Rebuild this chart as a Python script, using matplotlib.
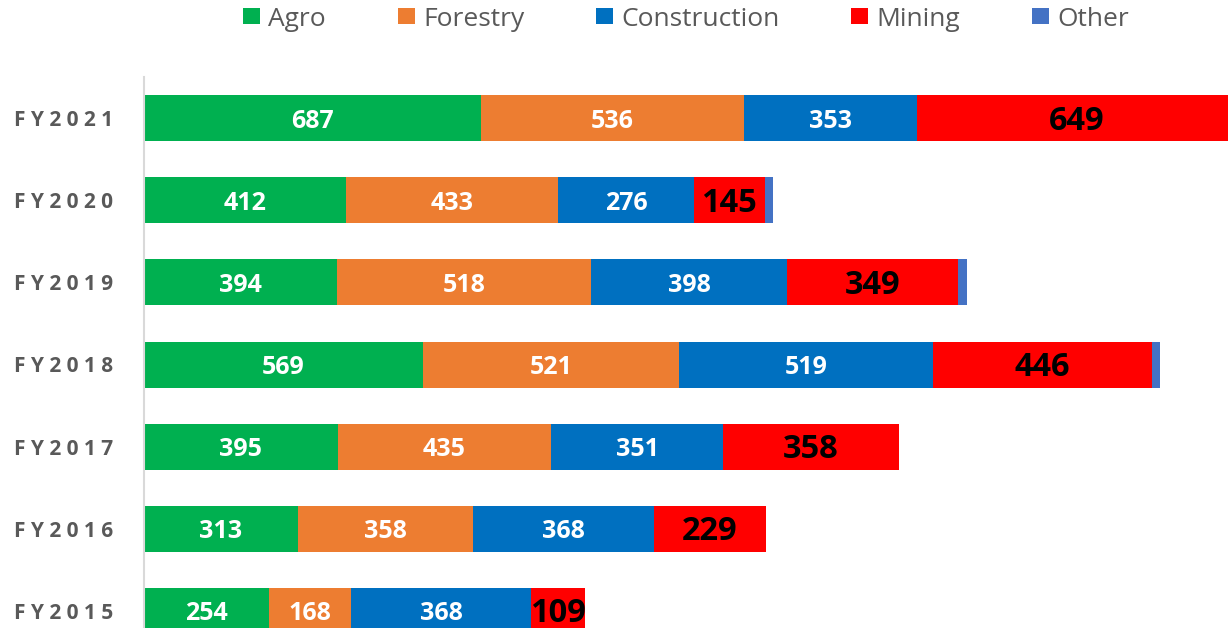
import matplotlib
matplotlib.use("Agg")
import matplotlib.pyplot as plt
from matplotlib.patches import Patch
from matplotlib.transforms import offset_copy

years = ["FY2015", "FY2016", "FY2017", "FY2018", "FY2019", "FY2020", "FY2021"]
agro = [254, 313, 395, 569, 394, 412, 687]
forestry = [168, 358, 435, 521, 518, 433, 536]
construction = [368, 368, 351, 519, 398, 276, 353]
mining = [109, 229, 358, 446, 349, 145, 649]
other = [0, 0, 0, 16, 19, 16, 0]

series_names = ["Agro", "Forestry", "Construction", "Mining", "Other"]
series_vals = [agro, forestry, construction, mining, other]
colors = ["#00B050", "#ED7D31", "#0070C0", "#FF0000", "#4472C4"]

plt.rcParams['font.family'] = ['Open Sans', 'DejaVu Sans']

W, H = 1228, 628
fig = plt.figure(figsize=(W / 100, H / 100), dpi=100)
ax_left, ax_right = 144 / W, 1.0
ax_top, ax_bot = 1 - 77 / H, 1 - 652 / H
ax = fig.add_axes([ax_left, ax_bot, ax_right - ax_left, ax_top - ax_bot])
ax.set_facecolor("none")

lbl_tr = offset_copy(ax.transData, fig=fig, x=0, y=-3, units="dots")

ypos = list(range(len(years)))
left = [0] * len(years)
for name, vals, col in zip(series_names, series_vals, colors):
    ax.barh(ypos, vals, left=left, height=0.56, color=col, label=name)
    if name != "Other":
        for i, v in enumerate(vals):
            cx = left[i] + v / 2
            if name == "Mining":
                ax.text(cx, ypos[i], str(v), ha="center", va="center", transform=lbl_tr,
                        color="black", fontsize=23.5, fontweight="bold", clip_on=False)
            else:
                ax.text(cx, ypos[i], str(v), ha="center", va="center", transform=lbl_tr,
                        color="white", fontsize=18, fontweight="bold")
    left = [l + v for l, v in zip(left, vals)]

ax.set_xlim(0, (W - 144) / 0.4905)
ax.set_ylim(-0.5, 6.5)
ax.set_yticks(ypos)
ax.set_yticklabels([" ".join(y) for y in years], fontsize=15, fontweight="bold", color="#595959")
ax.tick_params(axis="y", length=0, pad=22)
ax.set_xticks([])
for s in ["top", "right", "bottom"]:
    ax.spines[s].set_visible(False)
ax.spines["left"].set_color("#D9D9D9")
ax.spines["left"].set_linewidth(1.5)

handles = [Patch(facecolor=c, edgecolor="none") for c in colors]
fs = 19
fpx = fs * 100 / 72
fig.legend(handles, series_names, loc="center", bbox_to_anchor=(686 / W, 1 - 19 / H),
           ncol=5, frameon=False, fontsize=fs, handlelength=17 / fpx, handleheight=14 / fpx,
           handletextpad=8 / fpx, columnspacing=72 / fpx, labelcolor="#595959",
           borderpad=0, borderaxespad=0)

fig.savefig("out.png", dpi=100)
